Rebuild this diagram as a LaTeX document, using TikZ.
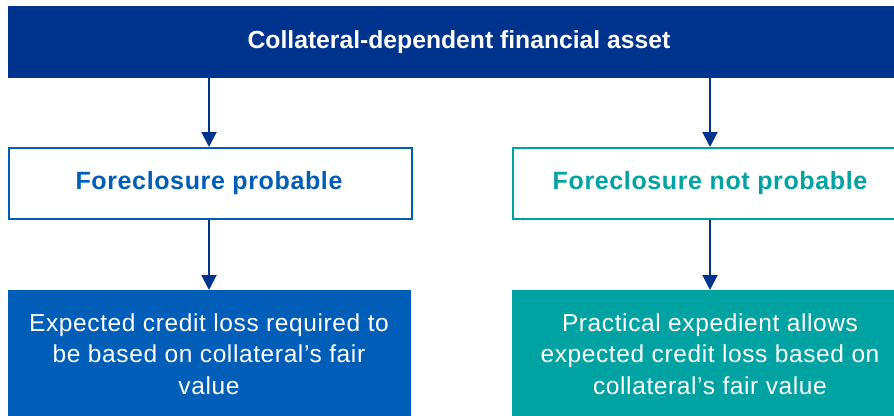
\documentclass[tikz,border=0pt]{standalone}
\usepackage{fontspec}
\setmainfont{Liberation Sans}
\newfontfamily\spaced[LetterSpace=2.5]{Liberation Sans}
\usetikzlibrary{arrows.meta}
\definecolor{navy}{HTML}{00338D}
\definecolor{kblue}{HTML}{005EB8}
\definecolor{kteal}{HTML}{00A3A1}
\begin{document}
\begin{tikzpicture}[x=1pt,y=-1pt,
  box/.style={rectangle,inner sep=0pt,align=center},
  arr/.style={draw=navy,line width=2pt,-{Triangle[width=15pt,length=15pt]}},
  head/.style={font=\spaced\fontsize{25}{30}\selectfont\bfseries},
  txt/.style={font=\spaced\fontsize{24.5}{31.5}\selectfont}]
\clip (0,0) rectangle (894,415);
\useasboundingbox (0,0) rectangle (894,415);
% top bar
\node[box,fill=navy,minimum width=889pt,minimum height=72pt,anchor=north west] (top) at (8,6) {};
\node[text=white,font=\fontsize{24.7}{30}\selectfont\bfseries] (toptxt) at (459,42) {Collateral-dependent financial asset};
% second row
\node[box,draw=kblue,line width=1.5pt,fill=white,minimum width=403pt,minimum height=71pt,anchor=north west] (fp) at (8,147) {};
\node[text=kblue,head] (fptxt) at (209,183) {Foreclosure probable};
\node[box,draw=kteal,line width=1.5pt,fill=white,minimum width=400pt,minimum height=71pt,anchor=north west] (fnp) at (512,147) {};
\node[text=kteal,head] (fnptxt) at (710,183) {Foreclosure not probable};
% bottom row
\node[box,fill=kblue,minimum width=403pt,minimum height=140pt,anchor=north west] (b1) at (8,290) {};
\node[text=white,txt,align=center] (b1txt) at (209,354) {Expected credit loss required to\\be based on collateral’s fair\\value};
\node[box,fill=kteal,minimum width=400pt,minimum height=140pt,anchor=north west] (b2) at (512,290) {};
\node[text=white,txt,align=center] (b2txt) at (710,354) {Practical expedient allows\\expected credit loss based on\\collateral’s fair value};
% arrows
\draw[arr] (top.south -| fptxt) -- (fp.north -| fptxt);
\draw[arr] (top.south -| fnptxt) -- (fnp.north -| fnptxt);
\draw[arr] (fp.south -| fptxt) -- (b1.north -| fptxt);
\draw[arr] (fnp.south -| fnptxt) -- (b2.north -| fnptxt);
\end{tikzpicture}
\end{document}
